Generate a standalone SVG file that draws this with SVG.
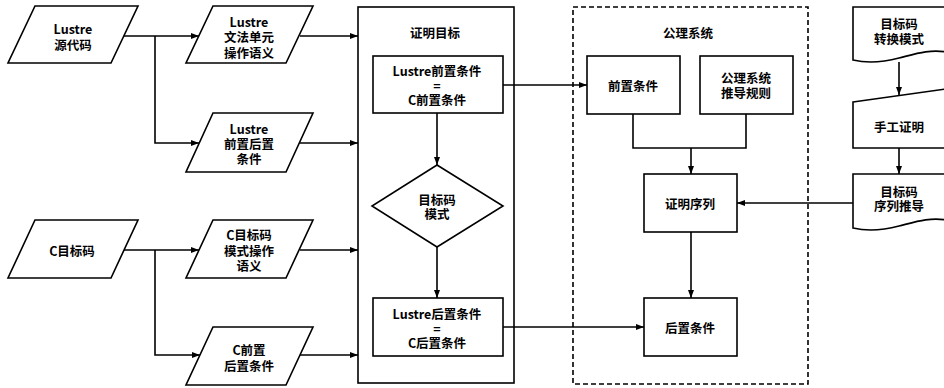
<svg xmlns="http://www.w3.org/2000/svg" width="944" height="388" viewBox="0 0 944 388">
<style>
.s{fill:#fff;stroke:#000;stroke-width:1.6}
.c{fill:none;stroke:#000;stroke-width:1.6}
.d{fill:none;stroke:#000;stroke-width:1.6;stroke-dasharray:5,3}
text{font-family:"Noto Sans CJK SC","Noto Sans",sans-serif;font-weight:bold;font-size:12.5px;text-anchor:middle;dominant-baseline:central;fill:#000}
</style>
<defs>
<marker id="a" markerUnits="userSpaceOnUse" markerWidth="8" markerHeight="6" refX="8" refY="3" orient="auto">
<path d="M0,0 L8,3 L0,6 Z" fill="#000"/>
</marker>
</defs>
<rect width="944" height="388" fill="#fff"/>
<g id="container-goal">
<rect class="s" x="358" y="7" width="156" height="376"/>
<text x="435" y="32">证明目标</text>
</g>
<g id="container-axiom">
<rect class="d" x="573" y="7" width="235" height="377"/>
<text x="688" y="32">公理系统</text>
</g>
<g id="connectors">
<path class="c" d="M124,36 H199" marker-end="url(#a)"/>
<path class="c" d="M155,36 V143 H199" marker-end="url(#a)"/>
<path class="c" d="M124,250 H199" marker-end="url(#a)"/>
<path class="c" d="M155,250 V355 H200" marker-end="url(#a)"/>
<path class="c" d="M300,36 H358" marker-end="url(#a)"/>
<path class="c" d="M300,143 H358" marker-end="url(#a)"/>
<path class="c" d="M300,250 H358" marker-end="url(#a)"/>
<path class="c" d="M300,355 H358" marker-end="url(#a)"/>
<path class="c" d="M437,113 V165" marker-end="url(#a)"/>
<path class="c" d="M437,247 V298" marker-end="url(#a)"/>
<path class="c" d="M503,85 H587" marker-end="url(#a)"/>
<path class="c" d="M503,327 H644" marker-end="url(#a)"/>
<path class="c" d="M633,114 V148 H746 V114"/>
<path class="c" d="M691,148 V174" marker-end="url(#a)"/>
<path class="c" d="M691,232 V298" marker-end="url(#a)"/>
<path class="c" d="M899,62 V95" marker-end="url(#a)"/>
<path class="c" d="M899,148 V174" marker-end="url(#a)"/>
<path class="c" d="M853,203 H737" marker-end="url(#a)"/>
</g>
<g id="lustre-src">
<polygon class="s" points="35,6 138,6 111,63 8,63"/>
<text x="73" y="28">Lustre</text>
<text x="73" y="44">源代码</text>
</g>
<g id="lustre-sem">
<polygon class="s" points="213,6 313,6 286,63 186,63"/>
<text x="249" y="21">Lustre</text>
<text x="249" y="36">文法单元</text>
<text x="249" y="52">操作语义</text>
</g>
<g id="lustre-cond">
<polygon class="s" points="213,113 313,113 286,172 186,172"/>
<text x="249" y="128">Lustre</text>
<text x="249" y="143">前置后置</text>
<text x="249" y="158">条件</text>
</g>
<g id="c-code">
<polygon class="s" points="35,220 138,220 111,278 8,278"/>
<text x="72" y="250">C目标码</text>
</g>
<g id="c-sem">
<polygon class="s" points="213,220 313,220 286,278 186,278"/>
<text x="249" y="234">C目标码</text>
<text x="249" y="250">模式操作</text>
<text x="249" y="265">语义</text>
</g>
<g id="c-cond">
<polygon class="s" points="213,327 313,327 286,385 186,385"/>
<text x="249" y="349">C前置</text>
<text x="249" y="365">后置条件</text>
</g>
<g id="pre-eq">
<rect class="s" x="373" y="56" width="130" height="57"/>
<text x="437" y="70">Lustre前置条件</text>
<text x="437" y="85">=</text>
<text x="437" y="99">C前置条件</text>
</g>
<g id="pattern">
<polygon class="s" points="437,165 503,206 437,247 372,206"/>
<text x="437" y="199">目标码</text>
<text x="437" y="213">模式</text>
</g>
<g id="post-eq">
<rect class="s" x="373" y="298" width="130" height="58"/>
<text x="437" y="313">Lustre后置条件</text>
<text x="437" y="328">=</text>
<text x="437" y="342">C后置条件</text>
</g>
<g id="pre">
<rect class="s" x="587" y="56" width="93" height="58"/>
<text x="633" y="85">前置条件</text>
</g>
<g id="rules">
<rect class="s" x="700" y="56" width="93" height="58"/>
<text x="746" y="77">公理系统</text>
<text x="746" y="92">推导规则</text>
</g>
<g id="seq">
<rect class="s" x="644" y="174" width="93" height="58"/>
<text x="690" y="203">证明序列</text>
</g>
<g id="post">
<rect class="s" x="644" y="298" width="93" height="58"/>
<text x="690" y="327">后置条件</text>
</g>
<g id="transform">
<path class="s" d="M853,7 H946 V52 C930,49 915,54 899,58 C880,63 866,63 853,60 Z"/>
<text x="899" y="23">目标码</text>
<text x="899" y="38">转换模式</text>
</g>
<g id="manual">
<path class="s" d="M853,102 L946,89 V148 H853 Z"/>
<text x="899" y="126">手工证明</text>
</g>
<g id="derive">
<path class="s" d="M853,174 H946 V220 C930,217 915,222 899,226 C880,231 866,231 853,228 Z"/>
<text x="899" y="191">目标码</text>
<text x="899" y="205">序列推导</text>
</g>
</svg>
